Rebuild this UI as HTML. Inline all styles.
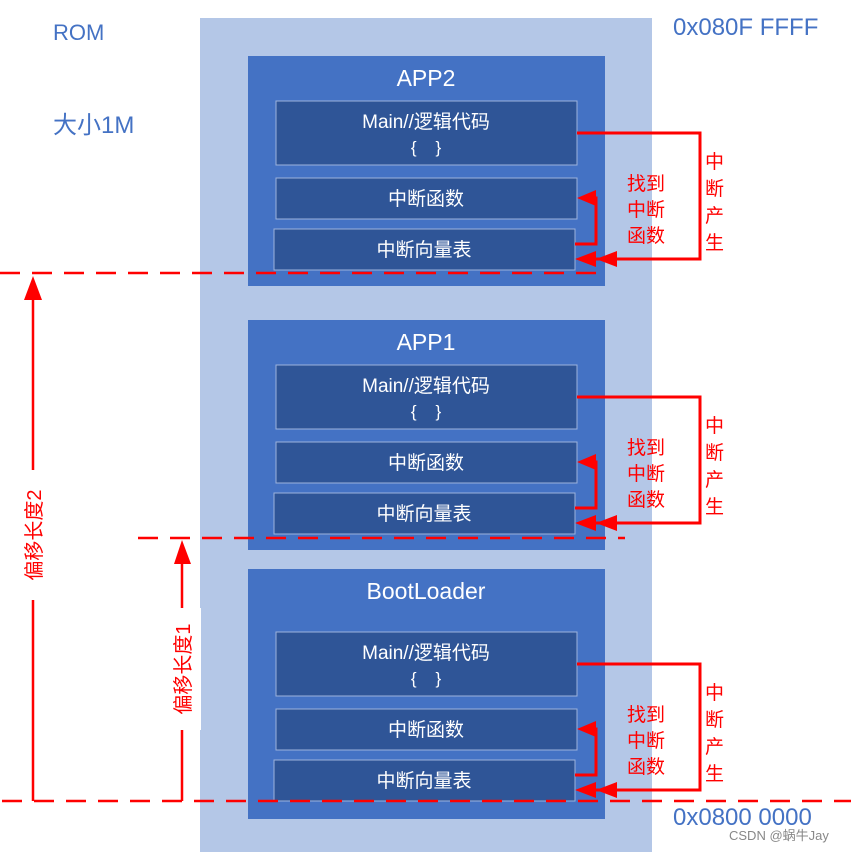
<!DOCTYPE html>
<html><head><meta charset="utf-8"><style>
html,body{margin:0;padding:0;background:#fff;}
svg{display:block;}
text{font-family:"Liberation Sans","Noto Sans CJK SC",sans-serif;}
</style></head><body>
<svg width="851" height="853" viewBox="0 0 851 853" xmlns="http://www.w3.org/2000/svg">
<defs>
<g id="inner">
  <rect x="276" y="101" width="301" height="64" fill="#2f5597" stroke="#9db3dc" stroke-width="1"/>
  <text x="426" y="128" fill="#fff" font-size="19" text-anchor="middle">Main//逻辑代码</text>
  <text x="426" y="153" fill="#fff" font-size="17" text-anchor="middle">{&#160;&#160;&#160;&#160;}</text>
  <rect x="276" y="178" width="301" height="41" fill="#2f5597" stroke="#9db3dc" stroke-width="1"/>
  <text x="426" y="205" fill="#fff" font-size="19" text-anchor="middle">中断函数</text>
  <rect x="274" y="229" width="301" height="41" fill="#2f5597" stroke="#9db3dc" stroke-width="1"/>
  <text x="424" y="256" fill="#fff" font-size="19" text-anchor="middle">中断向量表</text>
  <g stroke="#f00" stroke-width="3" fill="none">
    <polyline points="577,133 700,133 700,259 595,259"/>
    <polyline points="575,244 596,244 596,198 592,198"/>
  </g>
  <polygon points="577,198 596,190 596,206" fill="#f00"/>
  <polygon points="575,259 596,251 596,267" fill="#f00"/>
  <polygon points="596,259 617,251 617,267" fill="#f00"/>
  <g fill="#f00" font-size="19">
    <text x="627" y="190">找到</text>
    <text x="627" y="216">中断</text>
    <text x="627" y="242">函数</text>
    <text x="705" y="168">中</text>
    <text x="705" y="195">断</text>
    <text x="705" y="222">产</text>
    <text x="705" y="249">生</text>
  </g>
</g>
</defs>
<rect x="200" y="18" width="452" height="834" fill="#b4c7e7"/>
<rect x="248" y="56" width="357" height="230" fill="#4472c4"/>
<rect x="248" y="320" width="357" height="230" fill="#4472c4"/>
<rect x="248" y="569" width="357" height="250" fill="#4472c4"/>
<text x="426" y="86" fill="#fff" font-size="23" text-anchor="middle">APP2</text>
<text x="426" y="350" fill="#fff" font-size="23" text-anchor="middle">APP1</text>
<text x="426" y="599" fill="#fff" font-size="23" text-anchor="middle">BootLoader</text>
<use href="#inner"/>
<use href="#inner" transform="translate(0,264)"/>
<use href="#inner" transform="translate(0,531)"/>
<text x="53" y="40" fill="#4472c4" font-size="22">ROM</text>
<text x="53" y="133" fill="#4472c4" font-size="24">大小1M</text>
<text x="673" y="35" fill="#4472c4" font-size="24">0x080F FFFF</text>
<text x="673" y="825" fill="#4472c4" font-size="24">0x0800 0000</text>
<text x="729" y="840" fill="#888" font-size="13">CSDN @蜗牛Jay</text>
<g stroke="#f00" stroke-width="2.5" stroke-dasharray="20,12" fill="none">
  <line x1="0" y1="273" x2="597" y2="273"/>
  <line x1="138" y1="538" x2="625" y2="538"/>
  <line x1="2" y1="801" x2="851" y2="801"/>
</g>
<g stroke="#f00" stroke-width="2.5" fill="none">
  <polyline points="33,300 33,801"/>
  <polyline points="182,562 182,801"/>
</g>
<polygon points="33,276 24,300 42,300" fill="#f00"/>
<polygon points="182,540 174,564 191,564" fill="#f00"/>
<rect x="22" y="470" width="22" height="130" fill="#fff"/>
<rect x="168" y="608" width="33" height="122" fill="#fff"/>
<text transform="translate(41,535) rotate(-90)" fill="#f00" font-size="20" text-anchor="middle">偏移长度2</text>
<text transform="translate(190,669) rotate(-90)" fill="#f00" font-size="20" text-anchor="middle">偏移长度1</text>
</svg>
</body></html>
